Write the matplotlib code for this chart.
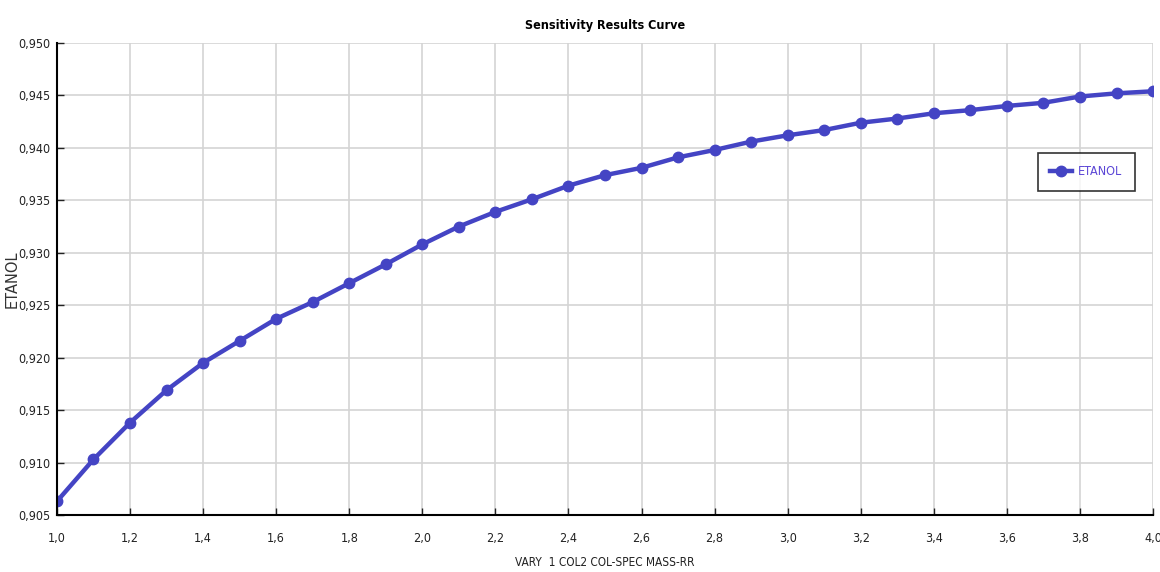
import matplotlib.pyplot as plt

# sensitivity results: reflux ratio vs ethanol purity
rr = [1.0, 1.1, 1.2, 1.3, 1.4, 1.5, 1.6, 1.7, 1.8, 1.9,
      2.0, 2.1, 2.2, 2.3, 2.4, 2.5, 2.6, 2.7, 2.8, 2.9,
      3.0, 3.1, 3.2, 3.3, 3.4, 3.5, 3.6, 3.7, 3.8, 3.9, 4.0]
etanol = [0.9063, 0.9103, 0.9138, 0.9169, 0.9195, 0.9216, 0.9237, 0.9253, 0.9271, 0.9289,
          0.9308, 0.9325, 0.9339, 0.9351, 0.9364, 0.9374, 0.9381, 0.9391, 0.9398, 0.9406,
          0.9412, 0.9417, 0.9424, 0.9428, 0.9433, 0.9436, 0.9440, 0.9443, 0.9449, 0.9452, 0.9454]

x_ticks = [1.0, 1.2, 1.4, 1.6, 1.8, 2.0, 2.2, 2.4, 2.6, 2.8, 3.0, 3.2, 3.4, 3.6, 3.8, 4.0]
y_ticks = [0.905, 0.910, 0.915, 0.920, 0.925, 0.930, 0.935, 0.940, 0.945, 0.950]
x_labels = ['1,0', '1,2', '1,4', '1,6', '1,8', '2,0', '2,2', '2,4', '2,6', '2,8',
            '3,0', '3,2', '3,4', '3,6', '3,8', '4,0']
y_labels = ['0,905', '0,910', '0,915', '0,920', '0,925', '0,930', '0,935', '0,940', '0,945', '0,950']

plt.rcParams['font.family'] = ['DejaVu Sans']
plt.rcParams['font.stretch'] = 'condensed'

fig = plt.figure(figsize=(11.6, 5.72), dpi=100)
ax = fig.add_axes([0.0491, 0.0997, 0.9449, 0.8251])

line_color = '#4444c4'
ax.plot(rr, etanol, color=line_color, lw=3.2, marker='o', ms=7.5, label='ETANOL')

ax.set_xlim(1.0, 4.0)
ax.set_ylim(0.905, 0.950)
ax.set_xticks(x_ticks)
ax.set_xticklabels(x_labels)
ax.set_yticks(y_ticks)
ax.set_yticklabels(y_labels)
ax.tick_params(axis='x', direction='in', length=5, width=1, labelsize=9, pad=12, colors='#222222')
ax.tick_params(axis='y', direction='in', length=5, width=1, labelsize=9, pad=5, colors='#222222')

ax.grid(True, color='#d4d4d4', lw=1.2)
ax.set_axisbelow(True)
for side in ['top', 'right']:
    ax.spines[side].set_visible(False)
for side in ['left', 'bottom']:
    ax.spines[side].set_color('black')
    ax.spines[side].set_linewidth(1.5)

ax.set_title('Sensitivity Results Curve', fontsize=9, fontweight='bold', pad=10)
ax.set_xlabel('VARY  1 COL2 COL-SPEC MASS-RR', fontsize=8.5, labelpad=8, color='#222222')
ax.set_ylabel('ETANOL', fontsize=10.5, color='#333333', stretch='normal')
ax.yaxis.set_label_coords(-0.034, 0.5)

leg = ax.legend(loc='upper left', bbox_to_anchor=(0.895, 0.767), frameon=True,
                fancybox=False, edgecolor='black', fontsize=9, handlelength=1.7,
                handletextpad=0.5, borderpad=1.0, borderaxespad=0)
leg.get_frame().set_linewidth(1.2)
for t in leg.get_texts():
    t.set_color('#5b46d6')

fig.savefig('out.png', dpi=100)
